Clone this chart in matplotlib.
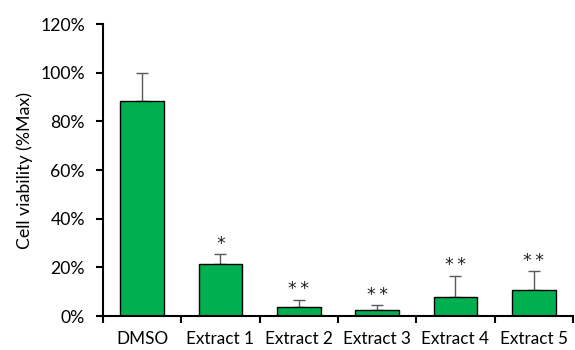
import matplotlib.pyplot as plt
import numpy as np
from matplotlib.ticker import PercentFormatter

## data
categories = ['DMSO', 'Extract 1', 'Extract 2', 'Extract 3', 'Extract 4', 'Extract 5']
viability = [88.4, 21.4, 3.8, 2.3, 7.8, 10.7]
errors = [11.6, 4.0, 3.0, 2.2, 8.8, 7.9]
stars = ['', '*', '**', '**', '**', '**']

plt.rcParams['font.family'] = ['Lato', 'DejaVu Sans']

fig = plt.figure(figsize=(5.75, 3.5), dpi=100)
ax = fig.add_axes([0.179, 0.097, 0.8175, 0.834])

x = np.arange(len(categories))
ax.bar(x, viability, width=0.56, color='#00B050', edgecolor='black', linewidth=1.0, zorder=2)
ax.errorbar(x, viability, yerr=[np.zeros(len(errors)), errors], fmt='none',
            ecolor='#595959', elinewidth=1.0, capsize=4, capthick=1.0, zorder=1)

## significance marks above the error bars
for xi, v, e, s in zip(x, viability, errors, stars):
    if s:
        ax.text(xi, v + e + 0.5, '\u2009'.join(s), ha='center', va='bottom', fontsize=12.5,
                family='DejaVu Sans', color='#222222')

ax.set_xlim(-0.5, len(categories) - 0.5)
ax.set_ylim(0, 120)
ax.set_yticks(np.arange(0, 121, 20))
ax.yaxis.set_major_formatter(PercentFormatter(decimals=0))

## category labels between boundary ticks, Excel style
ax.set_xticks(np.arange(-0.5, len(categories), 1.0))
ax.set_xticklabels([])
ax.set_xticks(x, minor=True)
ax.set_xticklabels(categories, minor=True)
ax.tick_params(axis='x', which='minor', length=0, pad=11, labelsize=12.3)
ax.tick_params(axis='x', which='major', length=5, width=1.5, direction='out')
ax.tick_params(axis='y', length=5, width=1.5, labelsize=12.7, pad=8)

for side in ['top', 'right']:
    ax.spines[side].set_visible(False)
for side in ['left', 'bottom']:
    ax.spines[side].set_linewidth(1.5)

ax.set_ylabel('Cell viability (%Max)', fontsize=12.8)
ax.yaxis.set_label_coords(-0.148, 0.5)

plt.savefig('out.png', dpi=100)
